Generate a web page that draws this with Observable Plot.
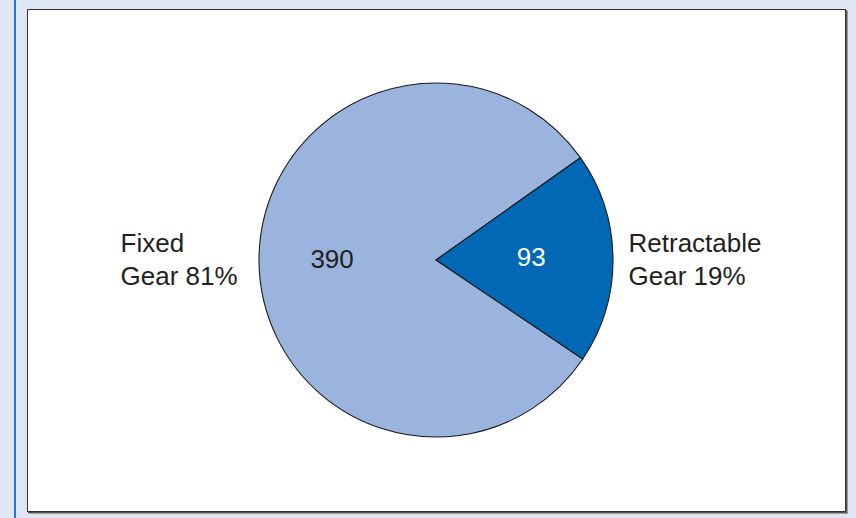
<!DOCTYPE html>
<html>
<head>
<meta charset="utf-8">
<script src="https://cdn.jsdelivr.net/npm/d3@7"></script>
<script src="https://cdn.jsdelivr.net/npm/@observablehq/plot@0.6"></script>
<style>
  html, body { margin: 0; padding: 0; }
  body { width: 856px; height: 518px; background: #dfe5f3; position: relative; overflow: hidden; font-family: "Liberation Sans", Arial, sans-serif; }
  #stripe { position: absolute; left: 14px; top: 0; width: 2px; height: 518px; background: #1f78d8; }
  #box { position: absolute; left: 27px; top: 9px; width: 817px; height: 501px; background: #fff; border: 1px solid #333; box-shadow: 1px 1px 0 #555, 2px 2px 0 #999; }
  #chart { position: absolute; left: 0; top: 0; }
</style>
</head>
<body>
<div id="stripe"></div>
<div id="box"></div>
<div id="chart"></div>
<script>
// ---- data ----
const categories = ["Fixed Gear", "Retractable Gear"];
const counts = [390, 93];
const sideLabels = ["Fixed\nGear 81%", "Retractable\nGear 19%"];
const sliceColors = ["#9bb4de", "#0068b4"];
const valueColors = ["#231f20", "#ffffff"];

// ---- layout of the pie ----
const startDeg = 124;              // where the first slice begins (clockwise from 12 o'clock)
const valueRadius = [0.59, 0.535]; // fraction of radius for the numbers inside slices
const sideRadius = [1.785, 1.085]; // fraction of radius for the left edge of the outside labels

const pie = d3.pie().sort(null).value(d => d.count)
  .startAngle(startDeg * Math.PI / 180)
  .endAngle(startDeg * Math.PI / 180 + 2 * Math.PI);
const rows = categories.map((c, i) => ({name: c, count: counts[i], side: sideLabels[i], color: sliceColors[i], vcolor: valueColors[i], vr: valueRadius[i], sr: sideRadius[i]}));
const arcs = pie(rows);

const valueText = arcs.map(a => {
  const m = (a.startAngle + a.endAngle) / 2;
  return {x: Math.sin(m) * a.data.vr, y: Math.cos(m) * a.data.vr, text: String(a.data.count), fill: a.data.vcolor};
});
const sideText = arcs.map(a => {
  const m = (a.startAngle + a.endAngle) / 2;
  const s = Math.sign(Math.sin(m));
  return {x: s * a.data.sr, y: 0, text: a.data.side};
});

function pieSlices(index, scales) {
  const cx = scales.x(0), cy = scales.y(0), r = scales.x(1) - cx;
  const arc = d3.arc().innerRadius(0).outerRadius(r);
  const g = d3.create("svg:g").attr("transform", `translate(${cx},${cy})`);
  g.selectAll("path").data(arcs).join("path")
    .attr("d", arc)
    .attr("fill", d => d.data.color)
    .attr("stroke", "#1a1a1a")
    .attr("stroke-width", 1.1)
    .attr("stroke-linejoin", "miter");
  return g.node();
}

const chart = Plot.plot({
  width: 856,
  height: 518,
  marginLeft: 259,
  marginRight: 243,
  marginTop: 83,
  marginBottom: 81,
  x: {domain: [-1, 1], axis: null},
  y: {domain: [-1, 1], axis: null},
  style: {background: "transparent", fontFamily: "'Liberation Sans', Arial, sans-serif", overflow: "visible"},
  marks: [
    pieSlices,
    Plot.text(valueText, {x: "x", y: "y", text: "text", fill: d => d.fill, fontSize: 26, dy: -2}),
    Plot.text(sideText, {x: "x", y: "y", text: "text", textAnchor: "start", fill: "#231f20", fontSize: 26, lineHeight: 1.27, dy: -3})
  ]
});
document.getElementById("chart").appendChild(chart);
</script>
</body>
</html>
